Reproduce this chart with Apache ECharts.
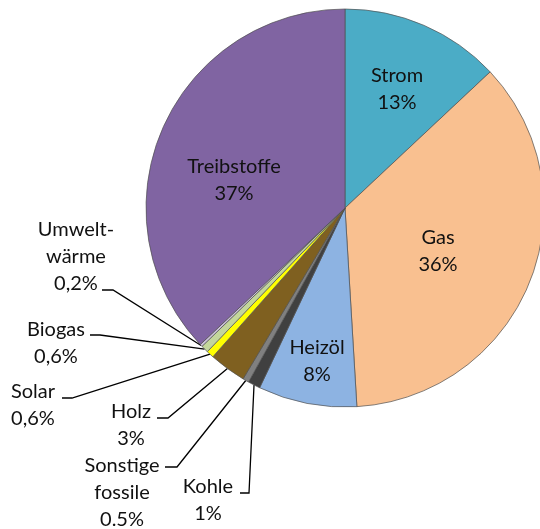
<!DOCTYPE html>
<html>
<head>
<meta charset="utf-8">
<script src="https://cdn.jsdelivr.net/npm/echarts@6/dist/echarts.min.js"></script>
<style>
html,body{margin:0;padding:0;background:#fff;}
#chart{width:540px;height:529px;}
</style>
</head>
<body>
<div id="chart"></div>
<script>
// ---- data ----
const categories = ['Strom','Gas','Heizöl','Kohle','Sonstige fossile','Holz','Solar','Biogas','Umweltwärme','Treibstoffe'];
const values = [13, 36, 8, 1, 0.5, 3, 0.6, 0.6, 0.2, 37];
const labelNames = ['Strom','Gas','Heizöl','Kohle','Sonstige\nfossile','Holz','Solar','Biogas','Umwelt-\nwärme','Treibstoffe'];
const percentLabels = ['13%','36%','8%','1%','0.5%','3%','0,6%','0,6%','0,2%','37%'];

// ---- styling / layout ----
const colors = ['#4bacc6','#f9c090','#8db3e2','#404040','#808080','#7f6020','#ffff00','#c3d69b','#ccc1da','#8064a2'];
const insideSet = [0,1,2,9];
// label anchor (center) positions in px
const labelPos = {
  0:[397,89], 1:[438,251], 2:[317,361], 9:[234,180],
  3:[208,500], 4:[122,493], 5:[131,425], 6:[33,405], 7:[56,343], 8:[76,257]
};
// leader line elbow and end points in px
const leaderTail = {
  3:[[249,493],[240,493]],
  4:[[177,467],[165,467]],
  5:[[168,418],[157,418]],
  6:[[72,398],[62,398]],
  7:[[100,335],[90,335]],
  8:[[113,290],[102,290]]
};

const chart = echarts.init(document.getElementById('chart'), null, {renderer:'canvas'});
const data = categories.map((c,i)=>({
  name:c, value:values[i],
  itemStyle:{color:colors[i]},
  label:{position: insideSet.includes(i) ? 'inside' : 'outside'},
  labelLine:{show: !insideSet.includes(i)}
}));

chart.setOption({
  animation:false,
  series:[{
    type:'pie',
    center:[345,208],
    radius:[0,199],
    startAngle:90,
    clockwise:true,
    avoidLabelOverlap:false,
    emphasis:{disabled:true},
    itemStyle:{borderColor:'#505050', borderWidth:0.7},
    label:{
      show:true,
      fontFamily:'Lato, "Liberation Sans", sans-serif',
      fontSize:20,
      lineHeight:27,
      color:'#111',
      align:'center',
      formatter:(p)=> labelNames[p.dataIndex] + '\n' + percentLabels[p.dataIndex]
    },
    labelLine:{lineStyle:{color:'#000', width:1.3}, length:10, length2:10},
    labelLayout:function(params){
      const i = params.dataIndex;
      const pos = labelPos[i];
      const res = {x:pos[0], y:pos[1], align:'center', verticalAlign:'middle', hideOverlap:false, moveOverlap:null};
      if (leaderTail[i] && params.labelLinePoints) {
        const start = params.labelLinePoints[0];
        res.labelLinePoints = [start, leaderTail[i][0], leaderTail[i][1]];
      }
      return res;
    },
    data:data
  }]
});
</script>
</body>
</html>
